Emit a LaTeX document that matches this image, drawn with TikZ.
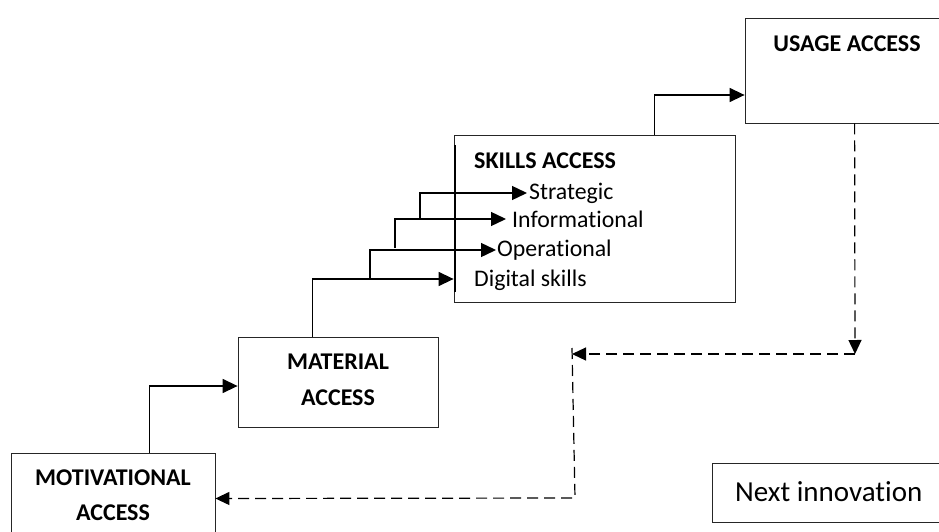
\documentclass[tikz,border=0pt]{standalone}
\usepackage{fontspec}
\setmainfont{Carlito}[Ligatures=NoCommon]
\usetikzlibrary{arrows.meta}
\begin{document}
\begin{tikzpicture}[x=1pt,y=-1pt,
  box/.style={draw=black!85,line width=0.8pt,inner sep=0pt},
  lbl/.style={font=\fontsize{24}{35.5}\selectfont\bfseries,align=center},
  item/.style={font=\fontsize{23.8}{28}\selectfont,anchor=west,inner ysep=0pt},
  tip/.style={-{Triangle[length=15pt,width=14pt]}},
  arr/.style={line width=1.4pt,tip},
  darr/.style={line width=1.2pt,dash pattern=on 11pt off 6pt,-{Triangle[length=14pt,width=13pt]}}]
\useasboundingbox (0,0) rectangle (939,532);
\clip (0,0) rectangle (939,532);

% stage boxes
\node[box,minimum width=204pt,minimum height=87pt] (motiv) at (113,496.5) {};
\node[lbl] at (113,495) {MOTIVATIONAL\\ACCESS};
\node[box,minimum width=200pt,minimum height=90pt] (mat) at (338,382) {};
\node[lbl] at (338,380) {MATERIAL\\ACCESS};
\node[box,minimum width=281pt,minimum height=167pt] (skills) at (594.5,218.5) {};
\node[box,minimum width=230pt,minimum height=105pt] (usage) at (860,70.5) {};
\node[lbl] at (847,44) {USAGE ACCESS};
\node[box,minimum width=250pt,minimum height=59pt] (next) at (837,492.5) {};
\node[font=\fontsize{29}{33}\selectfont,anchor=west,inner sep=0pt] at (735,492) {Next innovation};

% heavier left edge of the skills box
\draw[line width=1.6pt] (455.2,145) -- (455.2,292);

% contents of the skills box
\node[lbl,anchor=west,inner sep=0pt] at (474,161) {SKILLS ACCESS};
\node[item,inner xsep=2pt] (strat) at (527,193) {Strategic};
\node[item,inner xsep=6pt] (info) at (506,219) {Informational};
\node[item,inner xsep=1pt] (oper) at (496,250) {Operational};
\node[item,inner xsep=0pt] (dig) at (474,280) {Digital skills};

% steps up the ladder
\draw[arr] ([xshift=139pt]motiv.north west) |- ([yshift=-4pt]mat.west);
\draw[arr] ([xshift=75pt]mat.north west) |- ([yshift=-60.5pt]skills.west);
\coordinate (b1) at (370,279);
\coordinate (b2) at (395,248);
\coordinate (b3) at (420,219);
\draw[arr] (b1) |- (oper.west);
\draw[arr] (b2) |- (info.west);
\draw[arr] (b3) |- (strat.west);
\draw[arr] ([xshift=201pt]skills.north west) |- ([yshift=-24.5pt]usage.west);

% feedback loop towards the next round
\coordinate (c1) at (855,354);
\coordinate (c2) at (572,354);
\coordinate (c3) at (572,348);
\coordinate (c4) at (575,498);
\draw[darr] ([xshift=110pt]usage.south west) -- (c1);
\draw[darr] (c1) -- (c2);
\draw[darr] (c3) -- (c4) -- ([yshift=-2pt]motiv.east);
\end{tikzpicture}
\end{document}
